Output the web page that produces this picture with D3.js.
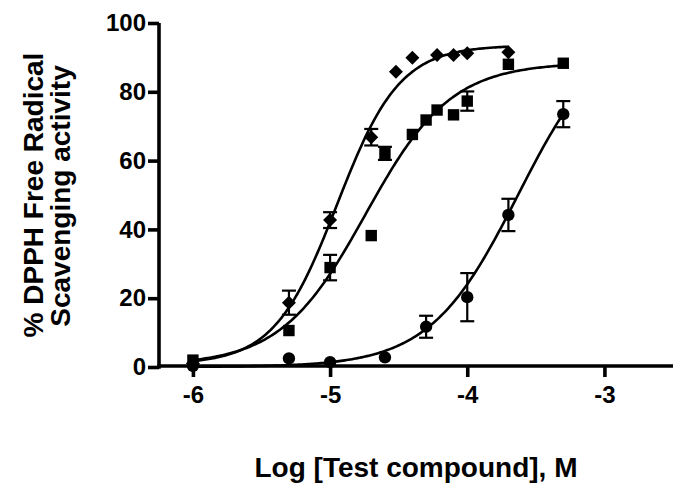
<!DOCTYPE html>
<html><head><meta charset="utf-8">
<script src="https://cdn.jsdelivr.net/npm/d3@7/dist/d3.min.js"></script>
<style>
html,body{margin:0;padding:0;background:#fff;}
svg{display:block;}
text{font-family:"Liberation Sans",Arial,Helvetica,sans-serif;font-weight:bold;fill:#000;}
</style></head>
<body>
<svg id="chart" width="689" height="497"></svg>
<script>
// ---- data (log M, % scavenging, SEM) ----
const xTicks = [-6, -5, -4, -3];
const xTickLabels = ["-6", "-5", "-4", "-3"];
const yTicks = [0, 20, 40, 60, 80, 100];

const diamondX   = [-6, -5.30, -5.00, -4.70, -4.52, -4.40, -4.22, -4.10, -4.00, -3.70];
const diamondY   = [1.0, 18.7, 42.7, 66.8, 85.8, 89.9, 90.7, 90.7, 91.2, 91.5];
const diamondErr = [0, 3.5, 2.3, 2.4, 0, 0, 0, 0, 0, 0];

const squareX   = [-6, -5.30, -5.00, -4.70, -4.60, -4.40, -4.30, -4.22, -4.10, -4.00, -3.70, -3.30];
const squareY   = [2.0, 10.6, 28.9, 38.2, 62.1, 67.6, 71.8, 74.7, 73.3, 77.3, 88.0, 88.3];
const squareErr = [0, 0, 3.7, 0, 1.9, 0, 0, 0, 0, 2.8, 0, 0];

const circleX   = [-6, -5.30, -5.00, -4.60, -4.30, -4.00, -3.70, -3.30];
const circleY   = [0.3, 2.5, 1.4, 2.8, 11.7, 20.3, 44.2, 73.5];
const circleErr = [0, 0, 0, 0, 3.2, 7.0, 4.7, 3.8];

// fitted sigmoidal dose-response parameters: [bottom, top, logEC50, hillSlope, xStart, xEnd]
const diamondFit = [0.8, 93.5, -4.95, 1.9, -6, -3.7];
const squareFit  = [0.5, 88.5, -4.74, 1.4, -6, -3.3];
const circleFit  = [0, 100, -3.63, 1.35, -6, -3.3];

const xLabel = "Log [Test compound], M";
const yLabel1 = "% DPPH Free Radical";
const yLabel2 = "Scavenging activity";

// ---- drawing ----
const svg = d3.select("#chart");
const x = d3.scaleLinear().domain([-6.24, -2.5]).range([160, 673]);
const y = d3.scaleLinear().domain([0, 100]).range([367, 23]);

function fitCurve(p) {
  const [b, t, ec, h, x0, x1] = p;
  const xs = d3.range(0, 201).map(i => x0 + (x1 - x0) * i / 200);
  return xs.map(v => [v, b + (t - b) / (1 + Math.pow(10, (ec - v) * h))]);
}
const line = d3.line().x(d => x(d[0])).y(d => y(d[1]));

[diamondFit, squareFit, circleFit].forEach(p => {
  svg.append("path").attr("d", line(fitCurve(p)))
    .attr("fill", "none").attr("stroke", "#000").attr("stroke-width", 2.6);
});

function errorBars(xs, ys, es) {
  const g = svg.append("g").attr("stroke", "#000").attr("stroke-width", 2.2);
  xs.forEach((v, i) => {
    if (!es[i]) return;
    const cx = x(v), top = y(ys[i] + es[i]), bot = y(ys[i] - es[i]);
    g.append("line").attr("x1", cx).attr("x2", cx).attr("y1", top).attr("y2", bot);
    g.append("line").attr("x1", cx - 7).attr("x2", cx + 7).attr("y1", top).attr("y2", top);
    g.append("line").attr("x1", cx - 7).attr("x2", cx + 7).attr("y1", bot).attr("y2", bot);
  });
}
errorBars(diamondX, diamondY, diamondErr);
errorBars(squareX, squareY, squareErr);
errorBars(circleX, circleY, circleErr);

const sym = {
  diamond: d3.symbol().type(d3.symbolDiamond2).size(125),
  square: d3.symbol().type(d3.symbolSquare).size(130),
  circle: d3.symbol().type(d3.symbolCircle).size(120)
};
function markers(xs, ys, s) {
  svg.append("g").selectAll("path").data(xs).join("path")
    .attr("d", s)
    .attr("transform", (d, i) => `translate(${x(d)},${y(ys[i])})`)
    .attr("fill", "#000");
}
markers(circleX, circleY, sym.circle);
markers(squareX, squareY, sym.square);
markers(diamondX, diamondY, sym.diamond);

// axes
const yAxis = svg.append("g").attr("transform", "translate(159,0)")
  .call(d3.axisLeft(y).tickValues(yTicks).tickFormat(d => String(d))
    .tickSize(11).tickSizeOuter(0).tickPadding(2));
const xAxis = svg.append("g").attr("transform", "translate(0,366)")
  .call(d3.axisBottom(x).tickValues(xTicks).tickFormat((d, i) => xTickLabels[i])
    .tickSize(11).tickSizeOuter(0).tickPadding(9));
[yAxis, xAxis].forEach(a => {
  a.select(".domain").attr("stroke", "#000").attr("stroke-width", 3.6);
  a.selectAll(".tick line").attr("stroke", "#000").attr("stroke-width", 3.6);
  a.selectAll(".tick text").style("font-size", "24px").style("font-weight", "bold")
    .style("font-family", '"Liberation Sans", Arial, sans-serif').attr("fill", "#000");
});
yAxis.select(".domain").attr("d", `M0,${y(0) + 1.8}V${y(100)}`);
xAxis.select(".domain").attr("d", `M${159 - 1.8},0H673`);

svg.append("text").attr("x", 416).attr("y", 477).attr("text-anchor", "middle")
  .style("font-size", "28px").text(xLabel);
svg.append("text").attr("transform", "translate(43,195) rotate(-90)")
  .attr("text-anchor", "middle").style("font-size", "28px").text(yLabel1);
svg.append("text").attr("transform", "translate(70,196) rotate(-90)")
  .attr("text-anchor", "middle").style("font-size", "28px").text(yLabel2);
</script>
</body></html>
